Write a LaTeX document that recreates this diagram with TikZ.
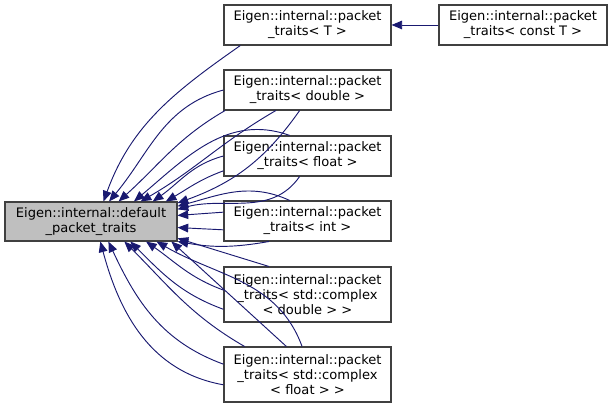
\documentclass[tikz,border=0pt]{standalone}
\usepackage{fontspec}
\setmainfont{DejaVu Sans}
\usepackage{tikz}
\usetikzlibrary{arrows.meta}
\definecolor{edgeblue}{HTML}{191970}
\definecolor{basegray}{HTML}{BFBFBF}
\definecolor{framegray}{HTML}{404040}
\tikzset{cls/.style={rectangle,draw=framegray,line width=0.8pt,fill=white,minimum width=125.25pt,minimum height=30pt,inner sep=1pt,align=center,font=\fontsize{9.8}{11.3}\selectfont},
  tall/.style={minimum height=41.25pt},
  inh/.style={draw=edgeblue,line width=0.7pt,-{Triangle[length=8pt,width=6.5pt]}}}

\begin{document}
\begin{tikzpicture}[x=0.75pt,y=0.75pt]
        \useasboundingbox (0,0) rectangle (613,409);
        \node[cls,fill=basegray,minimum width=129pt,minimum height=29.25pt] (base) at (91,187.5) {Eigen::internal::default\\\_packet\_traits};
        \node[cls] (pt) at (307.5,384) {Eigen::internal::packet\\\_traits< T >};
        \node[cls,minimum width=126pt] (pct) at (523,384) {Eigen::internal::packet\\\_traits< const T >};
        \node[cls] (pdbl) at (307.5,319) {Eigen::internal::packet\\\_traits< double >};
        \node[cls] (pflt) at (307.5,253) {Eigen::internal::packet\\\_traits< float >};
        \node[cls] (pint) at (307.5,188) {Eigen::internal::packet\\\_traits< int >};
        \node[cls,tall] (pcdbl) at (307.5,114.5) {Eigen::internal::packet\\\_traits< std::complex\\< double > >};
        \node[cls,tall] (pcflt) at (307.5,34.5) {Eigen::internal::packet\\\_traits< std::complex\\< float > >};

        \draw [inh] (pct) -- (pt);

        \draw [inh] (pt.197) to[out=215,in=70] (base.58);

        \draw [inh] (pdbl.west) to[out=195,in=50] (base.48);
        \draw [inh] (pdbl.194) to[out=210,in=42] (base.36);
        \draw [inh] (pdbl.213) to[out=210,in=30] (base.22);
        \draw [inh] (pdbl.249) to[out=235,in=20] (base.12);

        \draw [inh] (pflt.131) to[out=160,in=40] (base.25);
        \draw [inh] (pflt.west) to[out=195,in=35] (base.18);
        \draw [inh] (pflt.190) to[out=200,in=30] (base.15);
        \draw [inh] (pflt.249) to[out=235,in=15] (base.8);

        \draw [inh] (pint.131) to[out=155,in=15] (base.10);
        \draw [inh] (pint.174) -- (base.4);
        \draw [inh] (pint.186) -- (base.-4);
        \draw [inh] (pint.208) to[out=190,in=350] (base.-13);

        \draw [inh] (pcdbl.144) -- (base.-11);
        \draw [inh] (pcdbl.177) to[out=160,in=-35] (base.-20);
        \draw [inh] (pcdbl.190) to[out=160,in=-45] (base.-27);

        \draw [inh] (pcflt.187) to[out=170,in=-75] (base.-65);
        \draw [inh] (pcflt.173) to[out=160,in=-65] (base.-49);
        \draw [inh] (pcflt.156) to[out=150,in=-45] (base.-31);
        \draw [inh] (pcflt.127) -- (base.-14);
        \draw [inh] (pcflt.101) to[out=110,in=-30] (base.-17);
    \end{tikzpicture}
\end{document}
